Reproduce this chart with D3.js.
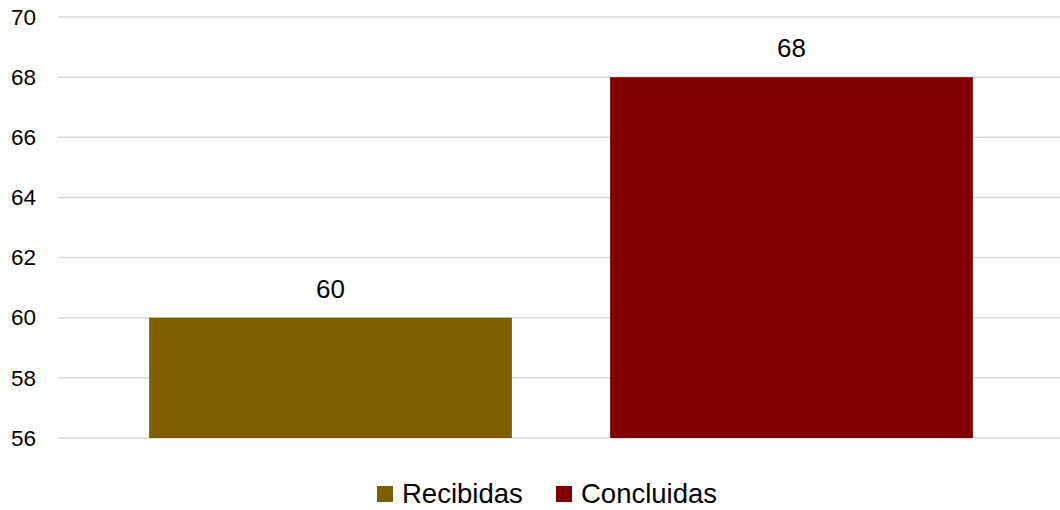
<!DOCTYPE html>
<html>
<head>
<meta charset="utf-8">
<script src="https://cdn.jsdelivr.net/npm/d3@7"></script>
<style>
  body { margin: 0; background: #fff; }
  text { font-family: "Liberation Sans", Arial, sans-serif; fill: #000; }
</style>
</head>
<body>
<svg width="1060" height="510"></svg>
<script>
var categories = ["Recibidas", "Concluidas"];
var values = [60, 68];
var colors = ["#7F6000", "#800000"];
var yTicks = [56, 58, 60, 62, 64, 66, 68, 70];

var svg = d3.select("svg");

var yScale = d3.scaleLinear()
    .domain([56, 70])
    .range([438, 17]);

var xScale = d3.scaleBand()
    .domain(categories)
    .range([100, 1022])
    .padding(0);

var barW = xScale.bandwidth() * 0.787;

// gridlines
svg.append("g")
  .selectAll("line")
  .data(yTicks)
  .enter().append("line")
    .attr("x1", 58)
    .attr("x2", 1060)
    .attr("y1", d => yScale(d))
    .attr("y2", d => yScale(d))
    .attr("stroke", "#d9d9d9")
    .attr("stroke-width", 1.5);

// y axis labels
var yAxis = svg.append("g")
    .attr("transform", "translate(36,0)")
    .call(d3.axisLeft(yScale).tickValues(yTicks).tickSize(0).tickPadding(0));
yAxis.select(".domain").remove();
yAxis.selectAll("text")
    .style("font-family", "'Liberation Sans', Arial, sans-serif")
    .style("font-size", "22.5px")
    .attr("fill", "#000");

// bars
svg.append("g")
  .selectAll("rect")
  .data(categories)
  .enter().append("rect")
    .attr("x", d => xScale(d) + (xScale.bandwidth() - barW) / 2)
    .attr("width", barW)
    .attr("y", (d, i) => yScale(values[i]))
    .attr("height", (d, i) => yScale(56) - yScale(values[i]))
    .attr("fill", (d, i) => colors[i]);

// value labels
svg.append("g")
  .selectAll("text")
  .data(categories)
  .enter().append("text")
    .attr("x", d => xScale(d) + xScale.bandwidth() / 2)
    .attr("y", (d, i) => yScale(values[i]) - 20)
    .attr("text-anchor", "middle")
    .style("font-size", "26px")
    .text((d, i) => values[i]);

// legend
var legendX = [377, 556];
var lg = svg.append("g");
categories.forEach(function(c, i) {
  lg.append("rect")
    .attr("x", legendX[i])
    .attr("y", 486)
    .attr("width", 16)
    .attr("height", 16)
    .attr("fill", colors[i]);
  lg.append("text")
    .attr("x", legendX[i] + 25)
    .attr("y", 503)
    .style("font-size", "27.5px")
    .text(c);
});
</script>
</body>
</html>
